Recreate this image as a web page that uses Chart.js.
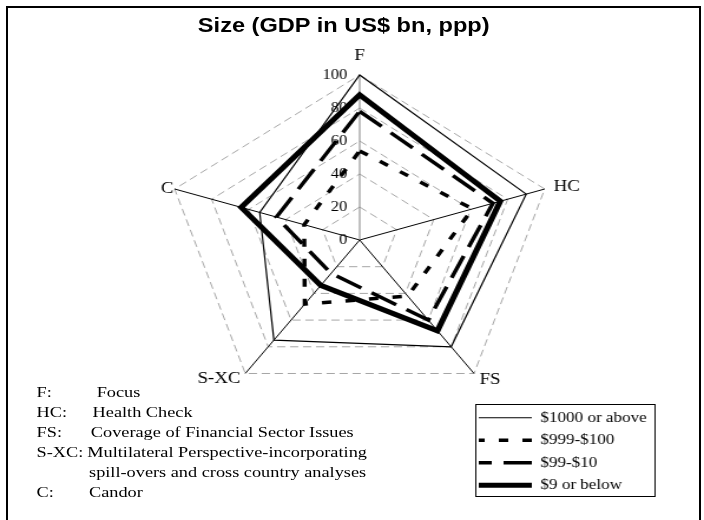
<!DOCTYPE html>
<html>
<head>
<meta charset="utf-8">
<title>Size (GDP in US$ bn, ppp)</title>
<script src="https://cdn.jsdelivr.net/npm/chart.js@4.4.1/dist/chart.umd.min.js"></script>
<style>
  html, body { margin: 0; padding: 0; background: #fff; }
  body { width: 704px; height: 520px; position: relative; overflow: hidden; }
  #frame { position: absolute; left: 6px; top: 6px; width: 695px; height: 540px; border: 2px solid #000; box-sizing: border-box; }
  /* the whole sheet is drawn narrow and then widened, like the pasted original */
  #sheet { position: absolute; left: 0; top: 0; width: 597px; height: 520px; transform: scaleX(1.1792); transform-origin: 0 0; }
  #chartBox { position: absolute; left: 0; top: 0; width: 597px; height: 520px; }
  #title { position: absolute; left: 0; top: 13px; width: 583px; text-align: center; font: bold 20px/24px "Liberation Sans", Arial, sans-serif; color: #000; }
  #key { position: absolute; left: 31px; top: 382px; font: 15.5px/20px "Liberation Serif", "Times New Roman", serif; color: #000; }
  #key div { position: relative; height: 20px; white-space: nowrap; }
  #key span { position: absolute; top: 0; }
</style>
</head>
<body>
<div id="frame"></div>
<div id="sheet">
  <div id="chartBox"><canvas id="radar"></canvas></div>
  <div id="title">Size (GDP in US$ bn, ppp)</div>
  <div id="key"></div>
</div>
<script>
(function() {

    // axes and series
    const axisLabels = ['F', 'HC', 'FS', 'S-XC', 'C'];
    const seriesNames = ['$1000 or above', '$999-$100', '$99-$10', '$9 or below'];
    const sizeLarge = [100, 90, 80, 75, 54];
    const sizeUpperMid = [54, 61, 42, 48, 30];
    const sizeLowerMid = [78, 72, 60, 25, 45];
    const sizeSmall = [88, 76, 68, 34, 64];
    const tickValues = [0, 20, 40, 60, 80, 100];

    // abbreviations printed under the chart
    const keyAbbr = ['F:', 'HC:', 'FS:', 'S-XC:', '', 'C:'];
    const keyText = ['Focus', 'Health Check', 'Coverage of Financial Sector Issues',
        'Multilateral Perspective-incorporating', 'spill-overs and cross country analyses', 'Candor'];
    const keyTextX = [51, 47.5, 46, 43, 44.5, 44.5];

    const serif = '"Liberation Serif", "Times New Roman", serif';

    // line look per series: thin, short dash, long dash, heavy
    const lineStyles = [
        { width: 1.2, dash: [], legendOffset: 0 },
        { width: 3.5, dash: [8, 12], legendOffset: 3 },
        { width: 3.5, dash: [24, 10], legendOffset: 13 },
        { width: 5, dash: [], legendOffset: 0 }
    ];
    // distance of each axis name from the end of its spoke
    const labelGap = [10, -1, -1, -2, -8];
    // where the framed legend sits
    const legendBox = { x: 403, y: 404, w: 152, h: 92 };

    const keyEl = document.getElementById('key');
    keyAbbr.forEach((abbr, i) => {
        const row = document.createElement('div');
        const a = document.createElement('span');
        a.style.left = '0px';
        a.textContent = abbr;
        const t = document.createElement('span');
        t.style.left = keyTextX[i] + 'px';
        t.textContent = keyText[i];
        row.appendChild(a);
        row.appendChild(t);
        keyEl.appendChild(row);
    });

    const values = [sizeLarge, sizeUpperMid, sizeLowerMid, sizeSmall];
    const datasets = seriesNames.map((name, i) => ({
        label: name,
        data: values[i],
        borderColor: '#000',
        backgroundColor: 'rgba(0,0,0,0)',
        borderWidth: lineStyles[i].width,
        borderDash: lineStyles[i].dash,
        borderJoinStyle: 'miter',
        fill: false,
        pointRadius: 0,
        pointHoverRadius: 0
    }));

    // legend goes in a framed box at the lower right, over the chart area
    const legendPlacer = {
        id: 'legendPlacer',
        afterLayout(chart) {
            const lg = chart.legend;
            lg.left = legendBox.x - 5;
            lg.top = legendBox.y - 1.5;
            lg.right = chart.width;
            lg.bottom = chart.height;
        },
        afterDraw(chart) {
            const c = chart.ctx;
            c.save();
            c.strokeStyle = '#000';
            c.lineWidth = 1;
            c.setLineDash([]);
            c.strokeRect(legendBox.x + 0.5, legendBox.y + 0.5, legendBox.w, legendBox.h);
            c.restore();
        }
    };

    const ctx = document.getElementById('radar').getContext('2d');
    const myChart = new Chart(ctx, {
        type: 'radar',
        data: {
            labels: axisLabels,
            datasets: datasets
        },
        plugins: [legendPlacer],
        options: {
            responsive: true,
            maintainAspectRatio: false,
            animation: false,
            events: [],
            layout: { padding: { left: 60, right: 47, top: 51, bottom: 100 } },
            plugins: {
                title: { display: false },
                tooltip: { enabled: false },
                legend: {
                    position: 'chartArea',
                    align: 'start',
                    labels: {
                        usePointStyle: true,
                        pointStyleWidth: 45,
                        padding: 8,
                        color: '#000',
                        font: { family: serif, size: 14.5 },
                        generateLabels: (chart) => chart.data.datasets.map((ds, i) => ({
                            text: ds.label,
                            fillStyle: 'rgba(0,0,0,0)',
                            strokeStyle: ds.borderColor,
                            fontColor: '#000',
                            lineWidth: ds.borderWidth,
                            lineDash: ds.borderDash,
                            lineDashOffset: lineStyles[i].legendOffset,
                            lineCap: 'butt',
                            pointStyle: 'line',
                            rotation: 0,
                            hidden: false,
                            datasetIndex: i
                        }))
                    }
                }
            },
            scales: {
                r: {
                    // a hair below zero so the "0" tick keeps its label
                    min: -0.001,
                    max: 100,
                    afterBuildTicks: (scale) => {
                        scale.ticks = tickValues.map(v => ({ value: v }));
                    },
                    ticks: {
                        color: '#000',
                        font: { family: serif, size: 14 },
                        showLabelBackdrop: false,
                        // trailing spaces push the centred number to the left of the spoke
                        callback: (v) => String(v) + ' '.repeat(2 * String(v).length + 6)
                    },
                    grid: { color: '#a6a6a6', lineWidth: 1 },
                    border: { dash: [7, 4] },
                    angleLines: {
                        color: (c) => c.index === 0 ? '#808080' : '#000',
                        lineWidth: 1
                    },
                    pointLabels: {
                        color: '#000',
                        font: { family: serif, size: 16, lineHeight: 0 },
                        padding: (c) => labelGap[c.index]
                    }
                }
            }
        }
    });

}());
</script>
</body>
</html>
